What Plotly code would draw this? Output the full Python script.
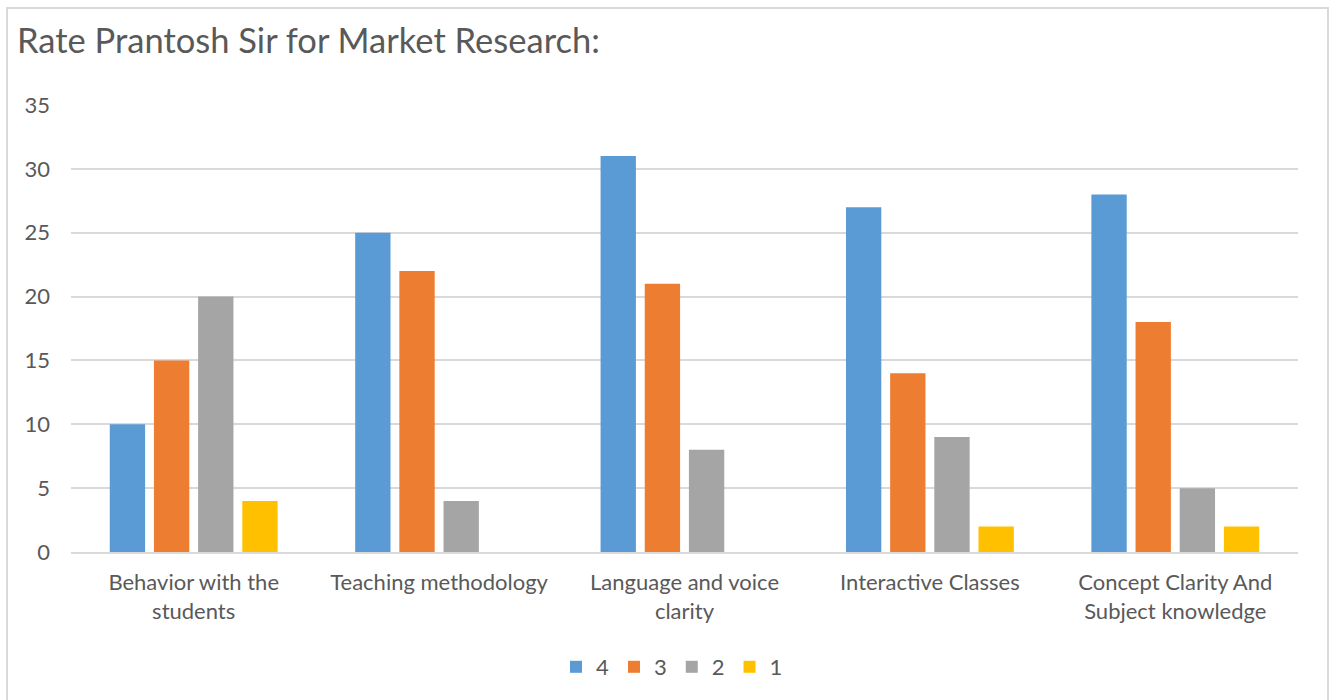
import plotly.graph_objects as go

# Data
categories = [
    "Behavior with the<br>students",
    "Teaching methodology",
    "Language and voice<br>clarity",
    "Interactive Classes",
    "Concept Clarity And<br>Subject knowledge",
]
series_names = ["4", "3", "2", "1"]
rating_4 = [10, 25, 31, 27, 28]
rating_3 = [15, 22, 21, 14, 18]
rating_2 = [20, 4, 8, 9, 5]
rating_1 = [4, 0, 0, 2, 2]
colors = ["#5B9BD5", "#ED7D31", "#A5A5A5", "#FFC000"]

fig = go.Figure()
for name, vals, col in zip(series_names, [rating_4, rating_3, rating_2, rating_1], colors):
    fig.add_trace(go.Bar(x=categories, y=vals, name=name, marker_color=col,
                         marker_line_width=0))

W, H = 1332, 700
L, R, T, B = 71, 34, 105, 148
pw, ph = W - L - R, H - T - B

def px_x(px):
    return (px - L) / pw

def px_y(py):
    return (H - B - py) / ph

font_fam = "Lato, 'Open Sans', sans-serif"

fig.update_layout(
    width=W, height=H,
    margin=dict(l=L, r=R, t=T, b=B),
    paper_bgcolor="white", plot_bgcolor="white",
    barmode="group", bargap=0.28, bargroupgap=0.2,
    font=dict(family=font_fam, color="#595959", size=22),
    title=dict(text="Rate Prantosh Sir for Market Research:", x=17 / W, xanchor="left",
               y=1 - 41 / H, yanchor="middle", font=dict(size=34.5, color="#595959")),
    showlegend=True,
    legend=dict(orientation="h", x=px_x(672), xanchor="center", y=px_y(667), yanchor="middle",
                font=dict(size=22, color="#595959"), traceorder="normal",
                itemwidth=30),
    xaxis=dict(showgrid=False, showline=True, linecolor="#D9D9D9", linewidth=2,
               ticks="", ticklabelstandoff=10, tickfont=dict(size=22, color="#595959")),
    yaxis=dict(range=[0, 35], dtick=5, showgrid=True, gridcolor="#D9D9D9", gridwidth=1.5,
               zeroline=False, showline=False, ticks="", ticklabelstandoff=20,
               tickfont=dict(size=22, color="#595959")),
    shapes=[dict(type="rect", xref="paper", yref="paper",
                 x0=px_x(7), x1=px_x(1328), y0=px_y(708), y1=px_y(8),
                 line=dict(color="#D9D9D9", width=2), fillcolor="rgba(0,0,0,0)",
                 layer="below")],
)

fig.write_html("out.html", config={"displayModeBar": False},
               post_script="document.body.style.margin='0';document.body.style.overflow='hidden';")
